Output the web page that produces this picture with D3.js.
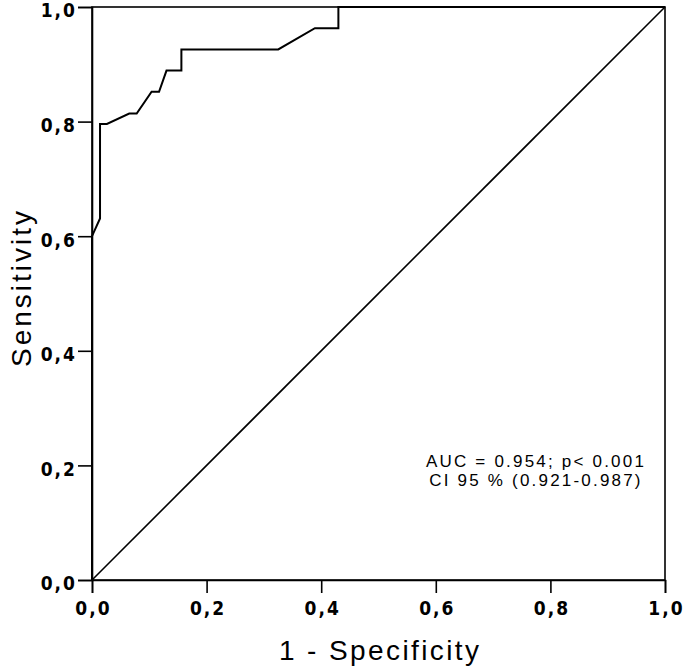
<!DOCTYPE html>
<html>
<head>
<meta charset="utf-8">
<script src="https://cdn.jsdelivr.net/npm/d3@7"></script>
<style>
  body { margin: 0; background: #fff; }
  .tick text { font-family: "Liberation Sans Narrow", "DejaVu Sans Condensed", sans-serif; font-weight: bold; font-size: 19px; letter-spacing: 2px; fill: #000; }
</style>
</head>
<body>
<div id="chart"></div>
<script>
(() => {
  const width = 685;
  const height = 668;
  const margin = { top: 7, right: 20, bottom: 88, left: 92 };

  // ROC curve points
  const fpr = [0, 0, 0.014, 0.014, 0.026, 0.065, 0.078, 0.104, 0.117, 0.130, 0.156, 0.156, 0.325, 0.389, 0.430, 0.430, 1.0];
  const tpr = [0, 0.6, 0.631, 0.796, 0.796, 0.814, 0.814, 0.852, 0.852, 0.889, 0.889, 0.926, 0.926, 0.963, 0.963, 1.0, 1.0];
  const ticks = [0, 0.2, 0.4, 0.6, 0.8, 1.0];
  const notes = ["AUC = 0.954; p< 0.001", "CI 95 % (0.921-0.987)"];

  const svg = d3.select("#chart").append("svg")
    .attr("width", width)
    .attr("height", height);

  const x = d3.scaleLinear().domain([0, 1]).range([margin.left, 665]);
  const y = d3.scaleLinear().domain([0, 1]).range([580, margin.top]);
  const fmt = d => d3.format(".1f")(d).replace(".", ",");

  // frame
  svg.append("rect")
    .attr("x", x(0)).attr("y", y(1))
    .attr("width", x(1) - x(0)).attr("height", y(0) - y(1))
    .attr("fill", "none").attr("stroke", "#000").attr("stroke-width", 1.6);

  const xAxis = svg.append("g").attr("transform", `translate(0,${y(0)})`)
    .call(d3.axisBottom(x).tickValues(ticks).tickFormat(fmt).tickSize(13).tickPadding(9));
  const yAxis = svg.append("g").attr("transform", `translate(${x(0)},0)`)
    .call(d3.axisLeft(y).tickValues(ticks).tickFormat(fmt).tickSize(14).tickPadding(3));
  [xAxis, yAxis].forEach(g => {
    g.select(".domain").attr("stroke", "#000").attr("stroke-width", 1.6);
    g.selectAll(".tick line").attr("stroke", "#000").attr("stroke-width", 1.6);
  });
  // letter-spacing leaves a trailing gap, shift it back
  xAxis.selectAll(".tick text").attr("dx", 1);
  yAxis.selectAll(".tick text").attr("dx", 2).attr("dy", "0.52em");

  // reference diagonal
  svg.append("path")
    .datum([0, 1])
    .attr("fill", "none").attr("stroke", "#000").attr("stroke-width", 1.6)
    .attr("d", d3.line().x(d => x(d)).y(d => y(d)));

  // ROC curve
  svg.append("path")
    .datum(d3.zip(fpr, tpr))
    .attr("fill", "none").attr("stroke", "#000").attr("stroke-width", 2)
    .attr("stroke-linejoin", "miter")
    .attr("d", d3.line().x(d => x(d[0])).y(d => y(d[1])));

  svg.append("g").selectAll("text").data(notes).join("text")
    .attr("x", 535).attr("y", (d, i) => 467 + i * 18.5)
    .attr("dx", 1)
    .attr("text-anchor", "middle")
    .attr("font-family", "Liberation Sans, Arial, sans-serif")
    .attr("font-size", 17)
    .attr("letter-spacing", 2.2)
    .text(d => d);

  svg.append("text")
    .attr("x", 379).attr("y", 660)
    .attr("dx", 1.2)
    .attr("text-anchor", "middle")
    .attr("font-family", "Liberation Sans, Arial, sans-serif")
    .attr("font-size", 28)
    .attr("letter-spacing", 2.4)
    .text("1 - Specificity");

  svg.append("text")
    .attr("transform", `translate(31,289) rotate(-90)`)
    .attr("dx", 1.5)
    .attr("text-anchor", "middle")
    .attr("font-family", "Liberation Sans, Arial, sans-serif")
    .attr("font-size", 28)
    .attr("letter-spacing", 3)
    .text("Sensitivity");
})();
</script>
</body>
</html>
